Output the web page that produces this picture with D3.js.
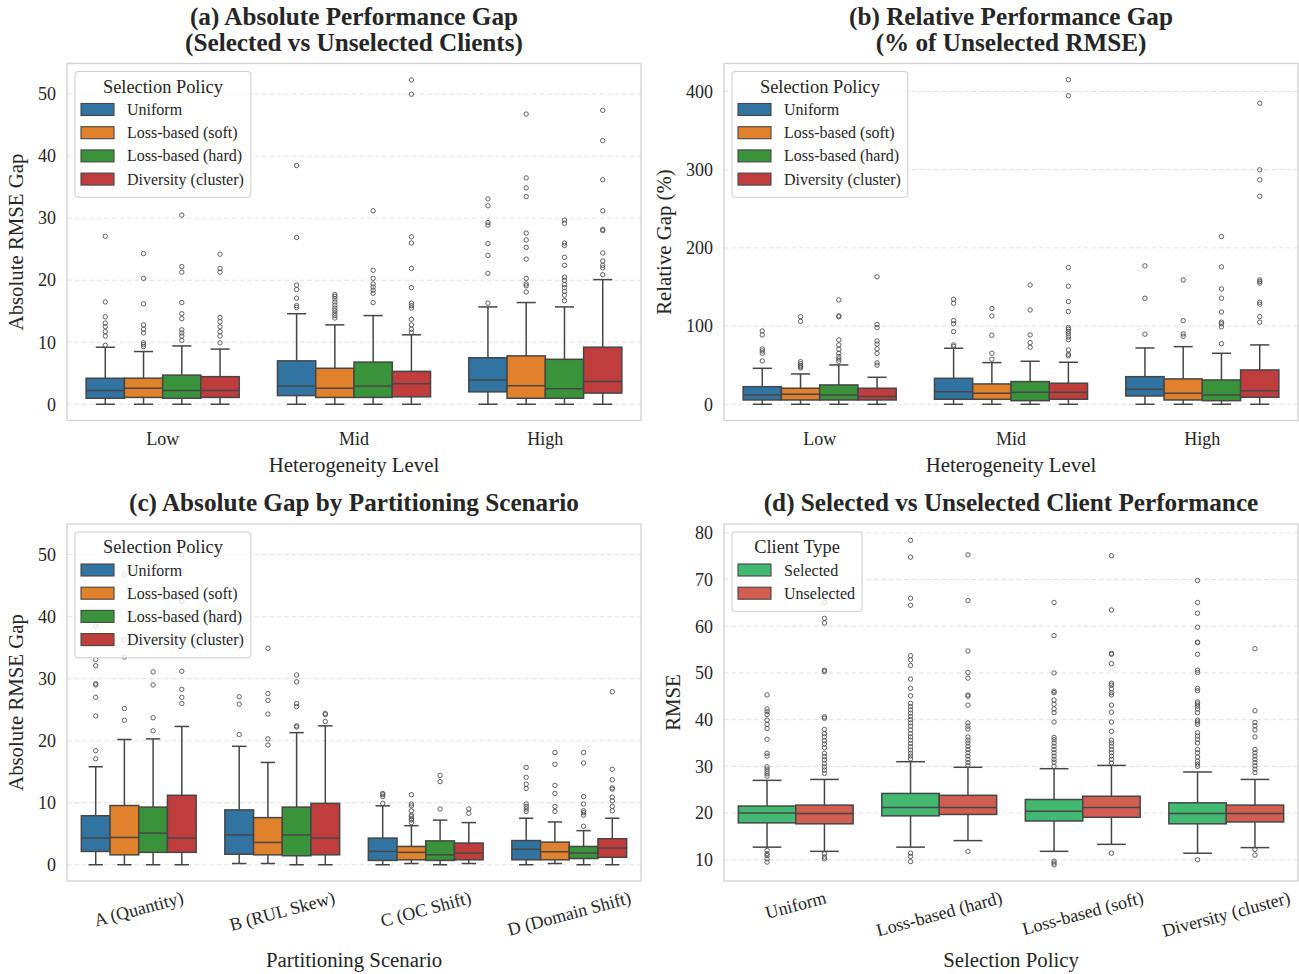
<!DOCTYPE html>
<html>
<head>
<meta charset="utf-8">
<script src="https://cdn.jsdelivr.net/npm/d3@7"></script>
<style>
  body { margin: 0; background: #ffffff; }
  text { font-family: "Liberation Serif", "Times New Roman", serif; fill: #262626; }
</style>
</head>
<body>
<svg id="chart" width="1299" height="974"></svg>
<script>
// ---------- data ----------
const levels = ["Low", "Mid", "High"];
const policies = ["Uniform", "Loss-based (soft)", "Loss-based (hard)", "Diversity (cluster)"];
const policyColors = ["#3274a1", "#e1812c", "#3a923a", "#c03d3e"];

// box summaries: [lower whisker, Q1, median, Q3, upper whisker]
const absGapStats = [
  [[0, 0.97, 2.2, 4.19, 9.19], [0, 1.1, 2.6, 4.2, 8.5], [0, 0.97, 2.2, 4.7, 9.4], [0, 1.1, 2.2, 4.45, 8.9]],
  [[0, 1.4, 2.95, 7.0, 14.6], [0, 1.1, 2.6, 5.8, 12.8], [0, 1.1, 2.95, 6.8, 14.3], [0, 1.2, 3.3, 5.3, 11.2]],
  [[0, 2.0, 3.9, 7.5, 15.7], [0, 0.97, 3.0, 7.8, 16.4], [0, 0.97, 2.5, 7.25, 15.7], [0, 1.8, 3.65, 9.2, 20.1]]
];
const absGapOutliers = [
  [[27.1, 16.5, 14.1, 13.1, 12.5, 11.7, 11.0, 9.5],
   [24.3, 20.3, 16.2, 12.8, 12.1, 11.5, 9.9, 9.6, 9.3],
   [30.5, 22.2, 21.3, 16.4, 14.6, 13.8, 12.0, 11.5, 11.0, 10.3],
   [24.2, 21.9, 21.3, 14.0, 13.3, 12.5, 11.7, 11.0, 9.9]],
  [[38.5, 26.9, 19.2, 18.5, 17.1, 15.9, 15.6],
   [17.7, 17.4, 17.0, 16.5, 16.0, 15.5, 15.1, 14.7, 14.3, 13.9],
   [31.2, 21.6, 20.3, 19.4, 18.9, 18.4, 17.9, 16.4],
   [52.3, 50.0, 27.0, 26.0, 21.9, 18.8, 16.3, 15.9, 15.5, 13.7, 12.8, 12.1, 11.6]],
  [[33.1, 32.0, 29.3, 28.9, 25.9, 24.0, 21.1, 16.3],
   [46.8, 36.5, 34.9, 33.5, 27.6, 26.5, 25.3, 23.4, 20.3, 19.4, 19.1, 18.1],
   [29.7, 29.2, 26.0, 25.6, 23.7, 22.4, 20.5, 20.0, 19.3, 18.8, 18.2, 17.6, 16.7],
   [47.4, 42.5, 36.2, 31.2, 28.2, 28.0, 24.4, 23.1, 22.4, 22.0, 20.9]]
];

const relGapStats = [
  [[0, 5.5, 11.9, 22.5, 46], [0, 5.5, 12.8, 20.5, 38.8], [0, 5.5, 11.9, 24.7, 50.3], [0, 5.5, 9.8, 20.5, 34.5]],
  [[0, 6.4, 16.1, 33.2, 71.6], [0, 6.4, 14.1, 26, 53.3], [0, 4.6, 15.4, 29, 55], [0, 6.4, 15.4, 26.9, 53.7]],
  [[0, 10.6, 19.2, 35.3, 72], [0, 5.5, 14.1, 32.4, 73.7], [0, 4.6, 11.9, 31.1, 65.2], [0, 9, 17.4, 43.9, 75.9]]
];
const relGapOutliers = [
  [[93.8, 88.7, 70.8, 68.2, 65.3, 55.4],
   [112, 106, 54.5, 51.9, 49.5, 47.9, 46.5],
   [133.4, 113, 112, 82.3, 75.9, 70.3, 65.2, 61, 57.9, 55],
   [163, 102, 98, 81, 77, 71, 65, 53, 50]],
  [[134.3, 129.2, 107, 103, 92.9, 75.9, 74],
   [122.4, 113, 88.3, 65.2, 57.6],
   [152.6, 120.6, 88.7, 78.8, 72.9],
   [415, 394.5, 174.8, 151, 131.3, 118.5, 98, 96, 93, 90, 86, 82.5, 69.5, 64, 62]],
  [[177, 135.6, 89.6],
   [159, 107, 90, 87],
   [214.4, 175.7, 147.5, 135.6, 118, 105, 103, 99, 77.5],
   [385, 299.8, 287, 266, 159, 157, 155, 130.5, 128, 112, 105]]
];

const scenarios = ["A (Quantity)", "B (RUL Skew)", "C (OC Shift)", "D (Domain Shift)"];
const scenarioStats = [
  [[0, 2.15, 4.3, 7.9, 15.8], [0, 1.6, 4.4, 9.55, 20.2], [0, 2.0, 5.1, 9.3, 20.3], [0, 2.0, 4.3, 11.2, 22.3]],
  [[0.2, 1.7, 4.8, 8.85, 19.1], [0.2, 1.6, 3.6, 7.6, 16.5], [0, 1.45, 4.8, 9.3, 21.3], [0, 1.6, 4.3, 9.9, 22.4]],
  [[0, 0.7, 2.15, 4.3, 9.5], [0.2, 0.8, 2.0, 2.95, 6.3], [0, 0.7, 1.6, 3.85, 7.2], [0.2, 0.8, 1.9, 3.5, 6.8]],
  [[0, 0.8, 2.5, 3.9, 7.5], [0.2, 0.8, 2.1, 3.65, 6.9], [0, 1.0, 1.9, 2.95, 5.5], [0, 1.2, 2.7, 4.2, 7.5]]
];
const scenarioOutliers = [
  [[38.5, 33.1, 32.1, 29.2, 29.0, 27.0, 24.0, 18.4, 17.1],
   [46.8, 36.3, 33.5, 25.2, 23.3],
   [31.1, 29.0, 23.7, 21.6],
   [50.0, 47.4, 42.5, 31.2, 28.3, 27.0, 26.0]],
  [[27.1, 25.9, 21.0],
   [34.9, 27.6, 26.5, 24.3, 20.3, 19.3],
   [30.6, 29.5, 26.0, 25.5, 22.4, 22.2],
   [24.4, 24.2, 23.1]],
  [[11.5, 11.3, 11.0, 9.9],
   [11.3, 9.8, 9.5, 8.7, 8.0, 7.75, 7.4, 7.2, 6.8],
   [14.4, 13.4, 9.0],
   [9.0, 8.3]],
  [[15.7, 14.1, 13.0, 12.3, 9.8, 9.4, 9.0, 8.6],
   [18.1, 16.2, 12.8, 11.5, 9.4, 8.6],
   [18.1, 16.4, 11.0, 9.8, 8.7, 8.4, 8.0, 6.2],
   [27.9, 15.4, 13.7, 12.4, 12.2, 10.9, 10.3, 9.4, 8.7]]
];

const clientPolicies = ["Uniform", "Loss-based (hard)", "Loss-based (soft)", "Diversity (cluster)"];
const clientTypes = ["Selected", "Unselected"];
const clientColors = ["#42b873", "#d25e51"];
const rmseStats = [
  [[12.7, 17.9, 20.0, 21.5, 27.0], [11.8, 17.7, 19.9, 21.7, 27.2]],
  [[12.7, 19.4, 21.2, 24.2, 31.0], [14.1, 19.7, 21.2, 23.8, 29.8]],
  [[11.8, 18.3, 20.4, 22.9, 29.5], [13.3, 19.1, 21.2, 23.6, 30.2]],
  [[11.4, 17.7, 19.9, 22.2, 28.8], [12.6, 18.1, 19.9, 21.7, 27.2]]
];
const rmseOutliers = [
  [[45.3, 42.3, 41.7, 41.1, 39.9, 39.0, 38.1, 35.8, 32.8, 32.2, 29.9, 29.4, 28.9, 28.4, 27.9,
    12.0, 11.3, 10.9, 10.2, 9.5],
   [65.1, 61.7, 60.7, 50.6, 50.3, 40.6, 40.3, 37.9, 37.0, 36.3, 35.5, 34.8, 34.0, 32.8, 32.1,
    31.4, 30.6, 29.9, 29.2, 28.5, 11.3, 10.6, 10.2]],
  [[78.4, 74.8, 66.0, 64.5, 53.7, 52.8, 51.6, 48.7, 46.7, 45.1, 43.5, 42.8, 42.1, 41.4, 40.7,
    40.0, 39.3, 38.6, 37.8, 37.0, 36.3, 35.6, 34.9, 34.2, 33.5, 32.8, 32.2, 31.6,
    11.4, 10.7, 9.6],
   [75.3, 65.5, 54.7, 50.1, 48.9, 45.3, 45.0, 43.1, 39.3, 38.6, 38.0, 36.3, 35.6, 35.0, 34.3,
    33.6, 32.9, 32.2, 31.5, 30.8, 30.2, 11.8]],
  [[65.1, 58.0, 50.0, 46.1, 45.8, 44.2, 43.3, 42.3, 41.5, 39.5, 36.2, 35.7, 35.0, 34.3, 33.6,
    32.9, 32.2, 31.5, 30.9, 30.0, 9.7, 9.3, 8.9],
   [75.1, 63.5, 54.2, 54.0, 52.0, 47.8, 47.4, 46.6, 45.8, 45.3, 43.1, 41.6, 39.5, 37.5, 35.6,
    35.0, 34.3, 33.6, 32.9, 32.2, 31.5, 30.7, 11.4]],
  [[69.8, 65.1, 62.8, 59.8, 56.6, 56.5, 54.0, 50.6, 50.1, 46.7, 46.2, 43.8, 43.4, 42.9, 42.3,
    41.5, 39.9, 39.5, 39.0, 37.2, 36.5, 35.8, 35.0, 33.6, 32.9, 32.0, 31.1, 30.5, 30.0, 10.0],
   [55.2, 41.9, 39.4, 38.7, 37.8, 36.3, 33.6, 32.9, 32.2, 31.5, 30.8, 30.1, 29.4, 28.7, 12.2, 11.0]]
];

const absTicks = [0, 10, 20, 30, 40, 50];
const relTicks = [0, 100, 200, 300, 400];
const rmseTicks = [10, 20, 30, 40, 50, 60, 70, 80];

// ---------- drawing ----------
const svg = d3.select("#chart");
const LINE = "#464646";
const FONT_TICK = 18, FONT_LABEL = 20.8, FONT_TITLE = 25.2;

function drawPanel(cfg) {
  const { x0, x1, y0, y1 } = cfg;
  const g = svg.append("g");
  const x = d3.scaleBand().domain(cfg.cats).range([x0, x1]).paddingInner(0).paddingOuter(0);
  const bw = x.bandwidth();
  const hue = d3.scaleBand().domain(cfg.hues).range([-0.4 * bw, 0.4 * bw]).padding(0);
  const boxW = hue.bandwidth();
  const y = d3.scaleLinear().domain(cfg.domain).range([y1, y0]);

  // grid lines (horizontal only)
  g.append("g").selectAll("line").data(cfg.ticks).join("line")
    .attr("x1", x0).attr("x2", x1)
    .attr("y1", d => y(d)).attr("y2", d => y(d))
    .attr("stroke", "#dedede").attr("stroke-width", 0.9).attr("stroke-dasharray", "4.5,3");

  // y axis tick labels
  const yAxis = d3.axisLeft(y).tickValues(cfg.ticks).tickSize(0).tickPadding(11);
  const ya = g.append("g").attr("transform", `translate(${x0},0)`).call(yAxis);
  ya.select(".domain").remove();
  ya.selectAll("text").style("font-family", '"Liberation Serif", serif')
    .style("font-size", FONT_TICK + "px").attr("fill", "#262626");
  let maxW = 0;
  ya.selectAll("text").each(function () { maxW = Math.max(maxW, this.getComputedTextLength()); });

  // boxes
  cfg.cats.forEach((c, ci) => {
    cfg.hues.forEach((h, hi) => {
      const s = cfg.stats[ci][hi];
      const cx = x(c) + bw / 2 + hue(h) + boxW / 2;
      const bg = g.append("g");
      const capW = boxW * 0.5;
      // whiskers
      bg.append("line").attr("x1", cx).attr("x2", cx).attr("y1", y(s[3])).attr("y2", y(s[4]))
        .attr("stroke", LINE).attr("stroke-width", 1.5);
      bg.append("line").attr("x1", cx).attr("x2", cx).attr("y1", y(s[1])).attr("y2", y(s[0]))
        .attr("stroke", LINE).attr("stroke-width", 1.5);
      [s[0], s[4]].forEach(v => {
        bg.append("line").attr("x1", cx - capW / 2).attr("x2", cx + capW / 2)
          .attr("y1", y(v)).attr("y2", y(v)).attr("stroke", LINE).attr("stroke-width", 1.5);
      });
      // box
      bg.append("rect").attr("x", cx - boxW / 2).attr("width", boxW)
        .attr("y", y(s[3])).attr("height", y(s[1]) - y(s[3]))
        .attr("fill", cfg.colors[hi]).attr("stroke", LINE).attr("stroke-width", 1.5);
      // median
      bg.append("line").attr("x1", cx - boxW / 2).attr("x2", cx + boxW / 2)
        .attr("y1", y(s[2])).attr("y2", y(s[2])).attr("stroke", LINE).attr("stroke-width", 1.5);
      // fliers
      bg.selectAll("circle").data(cfg.outliers[ci][hi]).join("circle")
        .attr("cx", cx).attr("cy", d => y(d)).attr("r", 2.2)
        .attr("fill", "none").attr("stroke", "#505050").attr("stroke-width", 0.9);
    });
  });

  // axes frame
  g.append("rect").attr("x", x0).attr("y", y0).attr("width", x1 - x0).attr("height", y1 - y0)
    .attr("fill", "none").attr("stroke", "#d2d2d2").attr("stroke-width", 1.3);

  // x tick labels
  cfg.cats.forEach(c => {
    const cx = x(c) + bw / 2;
    if (cfg.rotate) {
      const t = g.append("text").text(c).attr("text-anchor", "middle")
        .attr("dominant-baseline", "central").style("font-size", FONT_TICK + "px");
      const w = t.node().getComputedTextLength();
      const a = cfg.rotate * Math.PI / 180;
      const H = w * Math.sin(a) + FONT_TICK * 1.05 * Math.cos(a);
      t.attr("transform", `translate(${cx},${y1 + 7 + H / 2}) rotate(${-cfg.rotate})`);
    } else {
      g.append("text").text(c).attr("x", cx).attr("y", y1 + 24).attr("text-anchor", "middle")
        .style("font-size", FONT_TICK + "px");
    }
  });

  // axis labels
  g.append("text").text(cfg.xlabel).attr("x", (x0 + x1) / 2).attr("y", cfg.xlabelY)
    .attr("text-anchor", "middle").style("font-size", FONT_LABEL + "px");
  const ylx = x0 - 11 - maxW - 15;
  g.append("text").text(cfg.ylabel).attr("text-anchor", "middle")
    .attr("transform", `translate(${ylx},${(y0 + y1) / 2}) rotate(-90)`)
    .style("font-size", FONT_LABEL + "px");

  // title
  cfg.title.forEach((line, i) => {
    g.append("text").text(line).attr("x", (x0 + x1) / 2).attr("y", cfg.titleY + i * 25.5)
      .attr("text-anchor", "middle").style("font-size", FONT_TITLE + "px").style("font-weight", "bold")
      .attr("fill", "#1a1a1a");
  });

  // legend
  const lg = g.append("g").attr("transform", `translate(${x0 + 8},${y0 + 8})`);
  const rowH = 23.2;
  const lh = 37 + cfg.hues.length * rowH - 4;
  const box = lg.append("rect").attr("x", 0).attr("y", 0).attr("height", lh).attr("rx", 3)
    .attr("fill", "#ffffff").attr("fill-opacity", 0.8).attr("stroke", "#cccccc").attr("stroke-width", 1);
  const title = lg.append("text").text(cfg.legendTitle).attr("y", 21)
    .attr("text-anchor", "middle").style("font-size", "18.4px");
  let tw = title.node().getComputedTextLength();
  let maxLab = 0;
  cfg.hues.forEach((h, i) => {
    const cy = 38 + i * rowH;
    lg.append("rect").attr("x", 6).attr("y", cy - 6).attr("width", 33).attr("height", 12)
      .attr("fill", cfg.colors[i]).attr("stroke", LINE).attr("stroke-width", 1.1);
    const t = lg.append("text").text(h).attr("x", 52).attr("y", cy + 5.5).style("font-size", "16px");
    maxLab = Math.max(maxLab, t.node().getComputedTextLength());
  });
  const lw = Math.max(52 + maxLab + 7, tw + 20);
  box.attr("width", lw);
  title.attr("x", lw / 2);
}

drawPanel({
  x0: 67, x1: 641, y0: 63.5, y1: 420.5, cats: levels, hues: policies, colors: policyColors,
  stats: absGapStats, outliers: absGapOutliers, domain: [-2.62, 54.95], ticks: absTicks,
  title: ["(a) Absolute Performance Gap", "(Selected vs Unselected Clients)"], titleY: 25,
  xlabel: "Heterogeneity Level", xlabelY: 472, ylabel: "Absolute RMSE Gap", legendTitle: "Selection Policy"
});
drawPanel({
  x0: 724, x1: 1298, y0: 63.5, y1: 420.5, cats: levels, hues: policies, colors: policyColors,
  stats: relGapStats, outliers: relGapOutliers, domain: [-20.75, 435.75], ticks: relTicks,
  title: ["(b) Relative Performance Gap", "(% of Unselected RMSE)"], titleY: 25,
  xlabel: "Heterogeneity Level", xlabelY: 472, ylabel: "Relative Gap (%)", legendTitle: "Selection Policy"
});
drawPanel({
  x0: 67, x1: 641, y0: 524, y1: 881, cats: scenarios, hues: policies, colors: policyColors,
  stats: scenarioStats, outliers: scenarioOutliers, domain: [-2.62, 54.95], ticks: absTicks,
  title: ["(c) Absolute Gap by Partitioning Scenario"], titleY: 511, rotate: 15,
  xlabel: "Partitioning Scenario", xlabelY: 967, ylabel: "Absolute RMSE Gap", legendTitle: "Selection Policy"
});
drawPanel({
  x0: 724, x1: 1298, y0: 524, y1: 881, cats: clientPolicies, hues: clientTypes, colors: clientColors,
  stats: rmseStats, outliers: rmseOutliers, domain: [5.45, 81.9], ticks: rmseTicks,
  title: ["(d) Selected vs Unselected Client Performance"], titleY: 511, rotate: 15,
  xlabel: "Selection Policy", xlabelY: 967, ylabel: "RMSE", legendTitle: "Client Type"
});
</script>
</body>
</html>
